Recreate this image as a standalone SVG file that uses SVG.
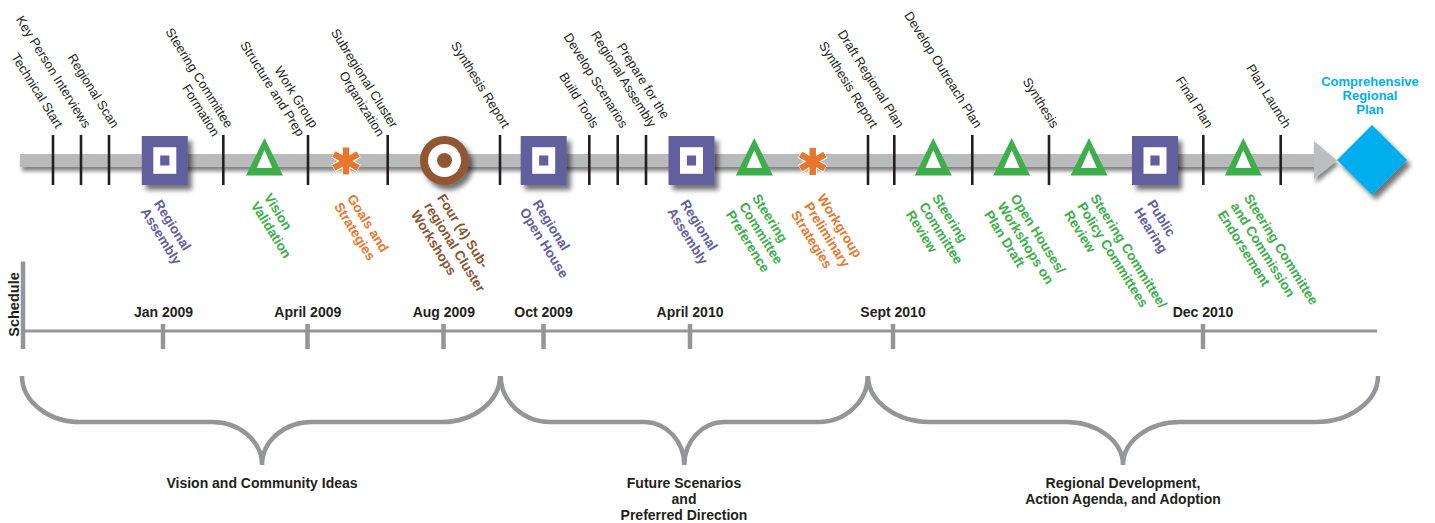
<svg xmlns="http://www.w3.org/2000/svg" width="1435" height="523" viewBox="0 0 1435 523">
<style>
.blk{font-family:"Liberation Sans",Arial,sans-serif;font-size:13px;fill:#231F20;text-anchor:end}
.lbl{font-family:"Liberation Sans",Arial,sans-serif;font-size:13.5px;font-weight:bold}
.pur{fill:#625E9F}.grn{fill:#3DAE4A}.org{fill:#E8772E}.brn{fill:#8C5535}
.date{font-family:"Liberation Sans",Arial,sans-serif;font-size:14px;font-weight:bold;fill:#231F20;text-anchor:middle}
.tick{stroke:#231F20;stroke-width:2.6}
.gl{stroke:#939598;fill:none}
</style>
<defs>
<filter id="sh" x="-40%" y="-40%" width="190%" height="190%">
<feGaussianBlur in="SourceAlpha" stdDeviation="2.5"/><feOffset dx="4" dy="5"/>
<feComponentTransfer><feFuncA type="linear" slope="0.55"/></feComponentTransfer>
<feMerge><feMergeNode/><feMergeNode in="SourceGraphic"/></feMerge>
</filter>
<filter id="bsh" x="-5%" y="-100%" width="110%" height="300%">
<feGaussianBlur in="SourceAlpha" stdDeviation="2"/><feOffset dx="2" dy="4"/>
<feComponentTransfer><feFuncA type="linear" slope="0.5"/></feComponentTransfer>
<feMerge><feMergeNode/><feMergeNode in="SourceGraphic"/></feMerge>
</filter>
<g id="sq"><rect x="-23" y="-24.5" width="46" height="49" fill="#625E9F"/><rect x="-11.5" y="-13.3" width="23" height="26.6" fill="#fff"/><rect x="-4.6" y="-5" width="9.2" height="10" fill="#625E9F"/></g>
<g id="tri"><polygon points="0,-22.5 -18.5,15 18.5,15" fill="#3DAE4A"/><polygon points="0,-10.5 -7.8,7.5 7.8,7.5" fill="#fff"/></g>
<g id="ast" stroke-linecap="butt">
<g stroke="#fff" stroke-width="8.5"><line x1="0" y1="-14" x2="0" y2="14"/><line x1="-12.6" y1="-7.3" x2="12.6" y2="7.3"/><line x1="-12.6" y1="7.3" x2="12.6" y2="-7.3"/></g>
<g stroke="#E8772E" stroke-width="6.5"><line x1="0" y1="-13.5" x2="0" y2="13.5"/><line x1="-12.2" y1="-7" x2="12.2" y2="7"/><line x1="-12.2" y1="7" x2="12.2" y2="-7"/></g>
</g>
</defs>
<rect width="1435" height="523" fill="#fff"/>

<g id="connectors">
<g filter="url(#bsh)">
<rect x="20" y="154" width="1296" height="13" fill="#B8BABC"/>
<polygon points="1314,141 1337,160.5 1314,179" fill="#BCBEC0"/>
</g>
<g id="ticks">
<line class="tick" x1="53" y1="135" x2="53" y2="185"/>
<line class="tick" x1="81" y1="135" x2="81" y2="185"/>
<line class="tick" x1="109" y1="135" x2="109" y2="185"/>
<line class="tick" x1="223.3" y1="135" x2="223.3" y2="185"/>
<line class="tick" x1="308" y1="135" x2="308" y2="185"/>
<line class="tick" x1="387.7" y1="135" x2="387.7" y2="185"/>
<line class="tick" x1="500" y1="135" x2="500" y2="185"/>
<line class="tick" x1="589.3" y1="135" x2="589.3" y2="185"/>
<line class="tick" x1="617.7" y1="135" x2="617.7" y2="185"/>
<line class="tick" x1="646" y1="135" x2="646" y2="185"/>
<line class="tick" x1="868" y1="135" x2="868" y2="185"/>
<line class="tick" x1="894.3" y1="135" x2="894.3" y2="185"/>
<line class="tick" x1="972.3" y1="135" x2="972.3" y2="185"/>
<line class="tick" x1="1049" y1="135" x2="1049" y2="185"/>
<line class="tick" x1="1203.3" y1="135" x2="1203.3" y2="185"/>
<line class="tick" x1="1280.7" y1="135" x2="1280.7" y2="185"/>
</g>
</g>

<g id="milestone-labels">
<text class="blk" transform="translate(56,129) rotate(58)">Technical Start</text>
<text class="blk" transform="translate(84,129) rotate(58)">Key Person Interviews</text>
<text class="blk" transform="translate(112,129) rotate(58)">Regional Scan</text>
<text class="blk" transform="translate(226,129) rotate(58)"><tspan x="0" y="0">Steering Committee</tspan><tspan x="0" y="15.7">Formation</tspan></text>
<text class="blk" transform="translate(311,129) rotate(58)"><tspan x="0" y="0">Work Group</tspan><tspan x="0" y="15.7">Structure and Prep</tspan></text>
<text class="blk" transform="translate(391,129) rotate(58)"><tspan x="0" y="0">Subregional Cluster</tspan><tspan x="0" y="15.7">Organization</tspan></text>
<text class="blk" transform="translate(503,129) rotate(58)">Synthesis Report</text>
<text class="blk" transform="translate(592,129) rotate(58)">Build Tools</text>
<text class="blk" transform="translate(621,129) rotate(58)">Develop Scenarios</text>
<text class="blk" transform="translate(662.5,120) rotate(58)"><tspan x="0" y="0">Prepare for the</tspan><tspan x="0" y="15.7">Regional Assembly</tspan></text>
<text class="blk" transform="translate(871,129) rotate(58)">Synthesis Report</text>
<text class="blk" transform="translate(897,129) rotate(58)">Draft Regional Plan</text>
<text class="blk" transform="translate(975,129) rotate(58)">Develop Outreach Plan</text>
<text class="blk" transform="translate(1052,129) rotate(58)">Synthesis</text>
<text class="blk" transform="translate(1206,129) rotate(58)">Final Plan</text>
<text class="blk" transform="translate(1284,129) rotate(58)">Plan Launch</text>
</g>

<g id="n1-regional-assembly">
<use href="#sq" transform="translate(164.8,160.5)" filter="url(#sh)"/>
<text class="lbl pur" transform="translate(153.5,203.4) rotate(58)"><tspan x="0" y="0">Regional</tspan><tspan x="0" y="15.5">Assembly</tspan></text>
</g>
<g id="n2-vision-validation">
<use href="#tri" transform="translate(264.5,160.5)"/>
<text class="lbl grn" transform="translate(263.5,197) rotate(58)"><tspan x="0" y="0">Vision</tspan><tspan x="0" y="15.5">Validation</tspan></text>
</g>
<g id="n3-goals">
<use href="#ast" transform="translate(346,161)"/>
<text class="lbl org" transform="translate(346.8,198) rotate(58)"><tspan x="0" y="0">Goals and</tspan><tspan x="0" y="15.5">Strategies</tspan></text>
</g>
<g id="n4-workshops">
<g filter="url(#sh)"><circle cx="444.5" cy="160.5" r="24.5" fill="#925734"/><circle cx="444.5" cy="160.5" r="16.5" fill="#fff"/><circle cx="444.5" cy="160.5" r="7.5" fill="#925734"/></g>
<text class="lbl brn" transform="translate(436.8,197.8) rotate(58)"><tspan x="0" y="0">Four (4) Sub-</tspan><tspan x="0" y="15.5">regional Cluster</tspan><tspan x="0" y="31">Workshops</tspan></text>
</g>
<g id="n5-open-house">
<use href="#sq" transform="translate(543.7,160.5)" filter="url(#sh)"/>
<text class="lbl pur" transform="translate(532.3,203.4) rotate(58)"><tspan x="0" y="0">Regional</tspan><tspan x="0" y="15.5">Open House</tspan></text>
</g>
<g id="n6-regional-assembly">
<use href="#sq" transform="translate(691.5,160.5)" filter="url(#sh)"/>
<text class="lbl pur" transform="translate(680.1,203.4) rotate(58)"><tspan x="0" y="0">Regional</tspan><tspan x="0" y="15.5">Assembly</tspan></text>
</g>
<g id="n7-preference">
<use href="#tri" transform="translate(754.3,160.5)"/>
<text class="lbl grn" transform="translate(751.8,197.8) rotate(58)"><tspan x="0" y="0">Steering</tspan><tspan x="0" y="15.5">Committee</tspan><tspan x="0" y="31">Preference</tspan></text>
</g>
<g id="n8-workgroup">
<use href="#ast" transform="translate(812.7,161.5)"/>
<text class="lbl org" transform="translate(816.8,197.8) rotate(58)"><tspan x="0" y="0">Workgroup</tspan><tspan x="0" y="15.5">Preliminary</tspan><tspan x="0" y="31">Strategies</tspan></text>
</g>
<g id="n9-review">
<use href="#tri" transform="translate(933.3,160.5)"/>
<text class="lbl grn" transform="translate(931.8,197.8) rotate(58)"><tspan x="0" y="0">Steering</tspan><tspan x="0" y="15.5">Committee</tspan><tspan x="0" y="31">Review</tspan></text>
</g>
<g id="n10-open-houses">
<use href="#tri" transform="translate(1011.7,160.5)"/>
<text class="lbl grn" transform="translate(1010.1,197.8) rotate(58)"><tspan x="0" y="0">Open Houses/</tspan><tspan x="0" y="15.5">Workshops on</tspan><tspan x="0" y="31">Plan Draft</tspan></text>
</g>
<g id="n11-policy-review">
<use href="#tri" transform="translate(1089,160.5)"/>
<text class="lbl grn" transform="translate(1090.1,197.8) rotate(58)"><tspan x="0" y="0">Steering Committee/</tspan><tspan x="0" y="15.5">Policy Committees</tspan><tspan x="0" y="31">Review</tspan></text>
</g>
<g id="n12-public-hearing">
<use href="#sq" transform="translate(1155,160.5)" filter="url(#sh)"/>
<text class="lbl pur" transform="translate(1146.8,203.4) rotate(58)"><tspan x="0" y="0">Public</tspan><tspan x="0" y="15.5">Hearing</tspan></text>
</g>
<g id="n13-endorsement">
<use href="#tri" transform="translate(1243.3,160.5)"/>
<text class="lbl grn" transform="translate(1243.5,197.8) rotate(58)"><tspan x="0" y="0">Steering Committee</tspan><tspan x="0" y="15.5">and Commission</tspan><tspan x="0" y="31">Endorsement</tspan></text>
</g>
<g id="n14-comprehensive-plan">
<polygon points="1372,125 1407,160 1372,195 1337,160" fill="#00AEEF" filter="url(#sh)"/>
<text class="lbl" style="font-size:13px;fill:#00AEEF;text-anchor:middle"><tspan x="1370" y="85.7">Comprehensive</tspan><tspan x="1370" y="100">Regional</tspan><tspan x="1370" y="114.3">Plan</tspan></text>
</g>

<g id="schedule">
<line class="gl" x1="23" y1="261.5" x2="23" y2="349" stroke-width="4.5"/>
<line class="gl" x1="23" y1="331" x2="1377" y2="331" stroke-width="3"/>
<g class="gl" stroke-width="4.5">
<line x1="163" y1="324" x2="163" y2="349"/>
<line x1="307.5" y1="324" x2="307.5" y2="349"/>
<line x1="443.5" y1="324" x2="443.5" y2="349"/>
<line x1="543.5" y1="324" x2="543.5" y2="349"/>
<line x1="690" y1="324" x2="690" y2="349"/>
<line x1="893" y1="324" x2="893" y2="349"/>
<line x1="1203" y1="324" x2="1203" y2="349"/>
</g>
<text class="date" transform="translate(18.5,304.5) rotate(-90)" style="font-size:14.5px">Schedule</text>
<text class="date" x="163.5" y="317">Jan 2009</text>
<text class="date" x="307.8" y="317">April 2009</text>
<text class="date" x="443.8" y="317">Aug 2009</text>
<text class="date" x="543.5" y="317">Oct 2009</text>
<text class="date" x="690" y="317">April 2010</text>
<text class="date" x="893" y="317">Sept 2010</text>
<text class="date" x="1203" y="317">Dec 2010</text>
</g>

<g id="phases">
<path class="gl" stroke-width="4.5" d="M22,376 C22,401 48,422 80,422 L212,422 C239.5,422 262,441 262,465 C262,441 284.5,422 312,422 L442,422 C474,422 500,401 500,376"/>
<path class="gl" stroke-width="4.5" d="M500.7,376 C500.7,401 523,422 550,422 L644.3,422 C666,422 684.3,441 684.3,465 C684.3,441 702.6,422 724.3,422 L818.7,422 C845.7,422 867.7,401 867.7,376"/>
<path class="gl" stroke-width="4.5" d="M868,376 C868,401 896,422 930,422 L1066,422 C1097,422 1123,441 1123,465 C1123,441 1149,422 1180,422 L1316,422 C1350,422 1378,401 1378,376"/>
<text class="date"><tspan x="262" y="488">Vision and Community Ideas</tspan></text>
<text class="date"><tspan x="684" y="488">Future Scenarios</tspan><tspan x="684" y="504">and</tspan><tspan x="684" y="520">Preferred Direction</tspan></text>
<text class="date"><tspan x="1123" y="488">Regional Development,</tspan><tspan x="1123" y="504">Action Agenda, and Adoption</tspan></text>
</g>
</svg>
